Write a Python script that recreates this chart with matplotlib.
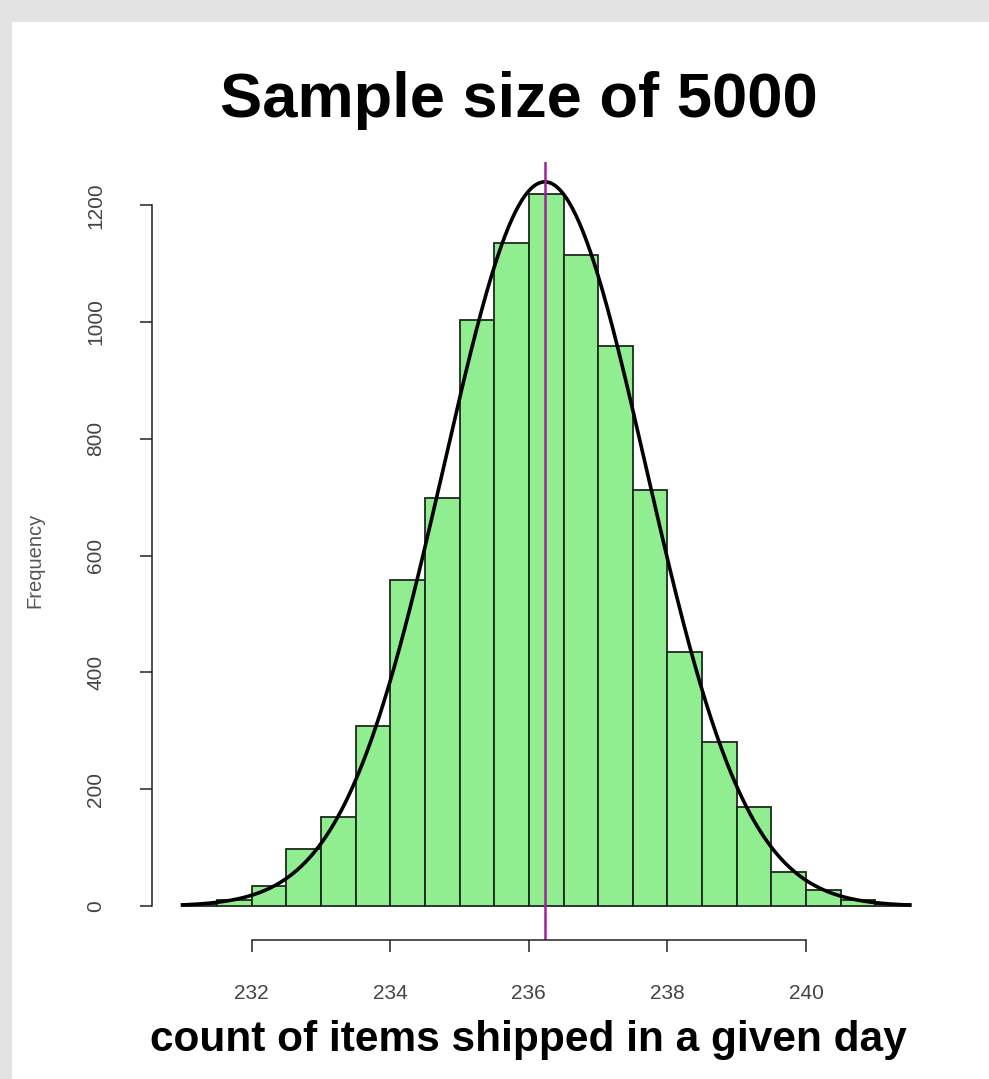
import numpy as np
import matplotlib.pyplot as plt
from matplotlib.patches import Rectangle

# histogram bins (left edges, width 0.5) and counts
bin_left = [231.0, 231.5, 232.0, 232.5, 233.0, 233.5, 234.0, 234.5, 235.0, 235.5,
            236.0, 236.5, 237.0, 237.5, 238.0, 238.5, 239.0, 239.5, 240.0, 240.5, 241.0]
counts = [3, 10, 34, 97, 153, 308, 558, 699, 1003, 1135,
          1219, 1115, 959, 713, 435, 281, 169, 59, 28, 10, 3]
bin_width = 0.5

# fitted normal curve and mean line
curve_mean = 236.23
curve_sd = 1.46
curve_peak = 1240
curve_range = (231.0, 241.5)

x_ticks = [232, 234, 236, 238, 240]
y_ticks = [0, 200, 400, 600, 800, 1000, 1200]

W, H = 989, 1079
fig = plt.figure(figsize=(W / 100, H / 100), dpi=100)
fig.patch.set_facecolor("#e3e3e3")
fig.patches.append(Rectangle((12 / W, 0), 1, 1 - 22 / H, transform=fig.transFigure,
                             facecolor="white", edgecolor="none", zorder=-1))

ax = fig.add_axes([152 / W, 1 - 940 / H, (939 - 152) / W, (940 - 162) / H])
ax.set_zorder(1)
ax.set_facecolor("none")

ax.bar(bin_left, counts, width=bin_width, align="edge", color="#90ee90",
       edgecolor="#1c2a1c", linewidth=1.3)

xs = np.linspace(curve_range[0], curve_range[1], 400)
ys = curve_peak * np.exp(-(xs - curve_mean) ** 2 / (2 * curve_sd ** 2))
ax.plot(xs, ys, color="black", lw=2.6)

ax.axvline(curve_mean, color="#a0239c", lw=1.8)

ax.set_xlim(230.56, 241.92)
ax.set_ylim(-58, 1274)

for s in ["top", "right"]:
    ax.spines[s].set_visible(False)
ax.spines["left"].set_bounds(0, 1200)
ax.spines["bottom"].set_bounds(232, 240)
for s in ["left", "bottom"]:
    ax.spines[s].set_linewidth(1.1)
    ax.spines[s].set_color("#222222")

ax.set_xticks(x_ticks)
ax.set_yticks(y_ticks)
ax.set_xticklabels([str(v) for v in x_ticks])
ax.set_yticklabels([str(v) for v in y_ticks], rotation=90, va="center")
ax.tick_params(axis="both", length=8.5, width=1.1, color="#222222",
               labelcolor="#444444", labelsize=15)
ax.tick_params(axis="x", pad=23)
ax.tick_params(axis="y", pad=25)
for lab in ax.get_xticklabels() + ax.get_yticklabels():
    lab.set_fontfamily(["Liberation Sans Narrow", "Liberation Sans", "DejaVu Sans"])

fig.text(35 / W, 1 - 560 / H, "Frequency", rotation=90, ha="center", va="center",
         fontsize=14.5, color="#555555",
         family=["Liberation Sans Narrow", "Liberation Sans", "DejaVu Sans"])

fig.text(519 / W, 1 - 100 / H, "Sample size of 5000", ha="center", va="center",
         fontsize=45.5, fontweight="bold", family=["Liberation Sans", "DejaVu Sans"])
fig.text(528 / W, 1 - 1040 / H, "count of items shipped in a given day", ha="center",
         va="center", fontsize=30.5, fontweight="bold",
         family=["Liberation Sans", "DejaVu Sans"])

fig.savefig("out.png", dpi=100)
